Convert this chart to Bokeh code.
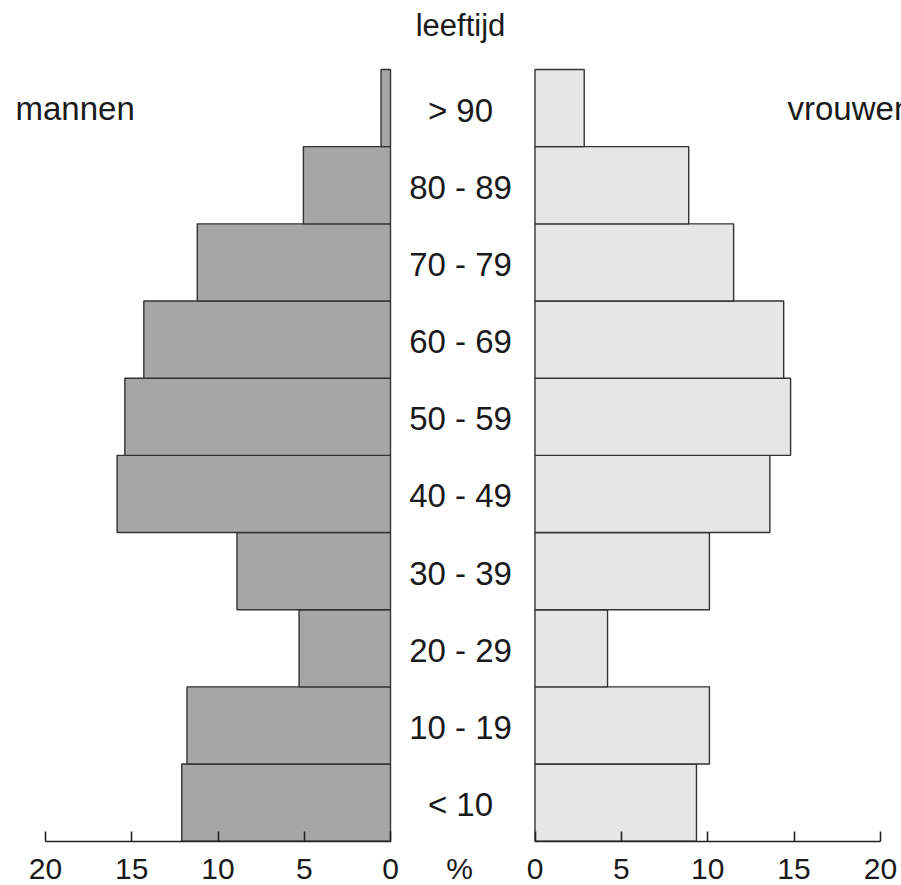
from bokeh.plotting import figure
from bokeh.models import Range1d, FixedTicker, ColumnDataSource
from bokeh.layouts import row
from bokeh.embed import file_html
from bokeh.resources import INLINE
from bokeh.core.properties import value

# ---- data ----
age_groups = ["< 10", "10 - 19", "20 - 29", "30 - 39", "40 - 49",
              "50 - 59", "60 - 69", "70 - 79", "80 - 89", "> 90"]
men = [12.1, 11.8, 5.3, 8.9, 15.85, 15.4, 14.3, 11.2, 5.05, 0.55]
women = [9.35, 10.1, 4.2, 10.1, 13.6, 14.8, 14.4, 11.5, 8.9, 2.85]
tick_values = [0, 5, 10, 15, 20]
unit_label = "%"

FONT = "Liberation Sans"
TXT = "#1a1a1a"
H = 885
ROW_PX = 77.17
AXIS_Y = 840.7                      # screen y of the axis line
Y_START = -(H - AXIS_Y) / ROW_PX
Y_END = AXIS_Y / ROW_PX

ymid = [i + 0.5 for i in range(len(age_groups))]
src = ColumnDataSource(dict(y=ymid, men=men, women=women, label=age_groups))


def style_axis(ax, ticks, bounds, standoff=18):
    ax.ticker = FixedTicker(ticks=ticks)
    if bounds is not None:
        ax.bounds = bounds
    ax.fixed_location = 0
    ax.axis_line_width = 1.6
    ax.axis_line_color = "#222222"
    ax.major_tick_in = 10
    ax.major_tick_out = 0
    ax.major_tick_line_width = 1.6
    ax.major_tick_line_color = "#222222"
    ax.minor_tick_line_color = None
    ax.major_label_text_font = FONT
    ax.major_label_text_font_size = "30px"
    ax.major_label_text_color = TXT
    ax.major_label_standoff = standoff


def base_fig(width, xr):
    p = figure(width=width, height=H, x_range=xr,
               y_range=Range1d(Y_START, Y_END),
               output_backend="svg", toolbar_location=None,
               y_axis_location=None,
               min_border_left=0, min_border_right=0,
               min_border_top=0, min_border_bottom=0)
    p.outline_line_color = None
    p.grid.visible = False
    p.background_fill_color = "white"
    p.border_fill_color = "white"
    return p


# left figure: men (reversed axis), screen x 0..402
PX_L = 17.25
left = base_fig(402, Range1d(390 / PX_L, (390 - 402) / PX_L))
style_axis(left.xaxis[0], tick_values, (0, 20))
left.hbar(y="y", left=0, right="men", height=1, source=src,
          fill_color="#a6a6a6", line_color="#333333", line_width=1.4)
left.text(x=[(390 - 15) / PX_L], y=[9.5], text=["mannen"],
          text_font=value(FONT), text_font_size="33px", text_color=TXT,
          text_align="left", text_baseline="middle")

# middle figure: age labels and the unit, screen x 402..522
mid = base_fig(120, Range1d(0, 120))
MID_X = 460 - 402
PCT_X = 459 - 402
ax_mid = mid.xaxis[0]
style_axis(ax_mid, [PCT_X], None, standoff=11)
ax_mid.axis_line_alpha = 0
ax_mid.major_tick_line_alpha = 0
ax_mid.major_label_overrides = {PCT_X: unit_label}
mid.text(x=MID_X, y="y", text="label", source=src,
         text_font=value(FONT), text_font_size="33px", text_color=TXT,
         text_align="center", text_baseline="middle", y_offset=2)
mid.text(x=[MID_X], y=[(AXIS_Y - 25) / ROW_PX], text=["leeftijd"],
         text_font=value(FONT), text_font_size="31px", text_color=TXT,
         text_align="center", text_baseline="middle")

# right figure: women, screen x 522..901
PX_R = 17.27
right = base_fig(379, Range1d((522 - 534.5) / PX_R, (901 - 534.5) / PX_R))
style_axis(right.xaxis[0], tick_values, (0, 20))
right.hbar(y="y", left=0, right="women", height=1, source=src,
           fill_color="#e6e6e6", line_color="#333333", line_width=1.4)
right.text(x=[(787 - 534.5) / PX_R], y=[9.5], text=["vrouwen"],
           text_font=value(FONT), text_font_size="33px", text_color=TXT,
           text_align="left", text_baseline="middle")

layout = row(left, mid, right, spacing=0)
open("out.html", "w").write(file_html(layout, INLINE))
